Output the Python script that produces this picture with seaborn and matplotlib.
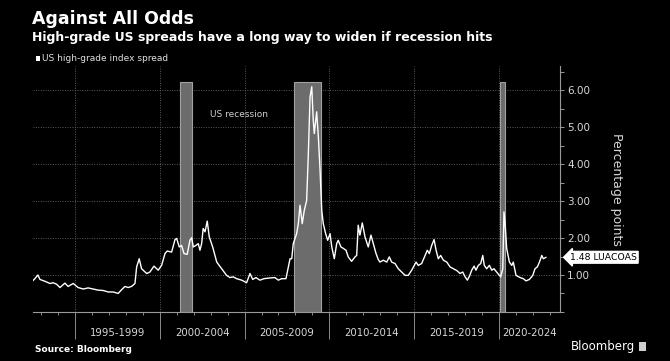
import numpy as np
import pandas as pd
import matplotlib.pyplot as plt
import seaborn as sns
from matplotlib.ticker import MultipleLocator, FixedLocator
from matplotlib.patches import Rectangle

# US high-grade index spread (LUACOAS), percentage points
years = [1992.51, 1992.64, 1992.82, 1992.94, 1993.23, 1993.53, 1993.72, 1993.92, 1994.12,
         1994.41, 1994.60, 1994.90, 1995.19, 1995.49, 1995.78, 1996.08, 1996.37, 1996.67,
         1996.96, 1997.26, 1997.55, 1997.75, 1997.95, 1998.14, 1998.34, 1998.54, 1998.64,
         1998.79, 1998.93, 1999.23, 1999.42, 1999.66, 1999.91, 2000.11, 2000.31, 2000.44,
         2000.70, 2000.90, 2001.00, 2001.15, 2001.29, 2001.43, 2001.62, 2001.78, 2001.88,
         2001.98, 2002.13, 2002.27, 2002.37, 2002.47, 2002.56, 2002.67, 2002.80, 2002.92,
         2003.12, 2003.36, 2003.65, 2003.94, 2004.14, 2004.33, 2004.53, 2004.83, 2005.12,
         2005.32, 2005.48, 2005.67, 2005.91, 2006.14, 2006.50, 2006.79, 2006.99, 2007.19,
         2007.44, 2007.58, 2007.68, 2007.78, 2007.87, 2008.07, 2008.17, 2008.27, 2008.40,
         2008.52, 2008.66, 2008.76, 2008.86, 2008.96, 2009.05, 2009.11, 2009.25, 2009.35,
         2009.45, 2009.55, 2009.64, 2009.78, 2009.90, 2010.04, 2010.14, 2010.29, 2010.43,
         2010.52, 2010.68, 2010.82, 2010.98, 2011.11, 2011.31, 2011.51, 2011.61, 2011.70,
         2011.80, 2011.94, 2012.10, 2012.29, 2012.45, 2012.59, 2012.75, 2012.88, 2012.98,
         2013.18, 2013.38, 2013.53, 2013.67, 2013.87, 2014.06, 2014.26, 2014.46, 2014.65,
         2014.85, 2015.11, 2015.24, 2015.44, 2015.64, 2015.77, 2015.89, 2016.03, 2016.17,
         2016.29, 2016.42, 2016.56, 2016.72, 2016.92, 2017.11, 2017.31, 2017.51, 2017.70,
         2017.86, 2018.00, 2018.13, 2018.25, 2018.39, 2018.53, 2018.64, 2018.78, 2018.92,
         2019.04, 2019.13, 2019.27, 2019.43, 2019.57, 2019.70, 2019.86, 2020.02, 2020.10,
         2020.22, 2020.29, 2020.37, 2020.45, 2020.61, 2020.75, 2020.84, 2021.00, 2021.24,
         2021.43, 2021.59, 2021.79, 2021.99, 2022.12, 2022.26, 2022.38, 2022.52, 2022.61,
         2022.77]
spread = [0.84, 0.90, 1.00, 0.88, 0.83, 0.77, 0.79, 0.75, 0.66,
          0.78, 0.69, 0.77, 0.66, 0.62, 0.65, 0.62, 0.59, 0.58,
          0.54, 0.54, 0.50, 0.60, 0.69, 0.66, 0.69, 0.77, 1.22,
          1.44, 1.17, 1.04, 1.08, 1.24, 1.13, 1.26, 1.58, 1.65,
          1.62, 1.96, 1.99, 1.76, 1.80, 1.58, 1.56, 1.94, 2.01,
          1.76, 1.80, 1.85, 1.67, 1.85, 2.26, 2.17, 2.46, 2.03,
          1.76, 1.35, 1.17, 0.99, 0.93, 0.95, 0.90, 0.86, 0.79,
          1.04, 0.88, 0.93, 0.86, 0.90, 0.92, 0.93, 0.86, 0.90,
          0.90, 1.22, 1.44, 1.44, 1.85, 2.12, 2.39, 2.89, 2.39,
          2.75, 3.02, 4.29, 5.82, 6.10, 5.19, 4.83, 5.42, 4.74,
          3.84, 2.75, 2.39, 2.12, 1.94, 2.12, 1.76, 1.44, 1.85,
          1.94, 1.76, 1.72, 1.67, 1.49, 1.37, 1.49, 1.53, 2.35,
          2.08, 2.41, 2.03, 1.76, 2.08, 1.85, 1.58, 1.42, 1.35,
          1.40, 1.35, 1.49, 1.35, 1.31, 1.17, 1.08, 0.99, 0.99,
          1.13, 1.35, 1.26, 1.31, 1.53, 1.67, 1.58, 1.80, 1.96,
          1.67, 1.44, 1.53, 1.40, 1.35, 1.22, 1.17, 1.12, 1.04,
          1.08, 0.95, 0.86, 0.96, 1.13, 1.24, 1.13, 1.26, 1.31,
          1.53, 1.26, 1.17, 1.26, 1.13, 1.17, 1.08, 0.99, 0.95,
          1.17, 2.71, 2.30, 1.72, 1.35, 1.26, 1.35, 0.99, 0.93,
          0.90, 0.84, 0.88, 0.99, 1.17, 1.22, 1.35, 1.53, 1.44,
          1.48]

rec_start = [2001.2, 2007.92, 2020.08]
rec_end = [2001.9, 2009.5, 2020.33]
rec_top = 6.23

period_edges = [1995, 2000, 2005, 2010, 2015, 2020]
period_labels = ['1995-1999', '2000-2004', '2005-2009', '2010-2014', '2015-2019', '2020-2024']
period_centers = [1997.5, 2002.5, 2007.5, 2012.5, 2017.5, 2021.8]
last_value = 1.48

sns.set_theme(style='ticks', rc={
    'figure.facecolor': 'black',
    'axes.facecolor': 'black',
    'savefig.facecolor': 'black',
    'text.color': 'white',
})
plt.rcParams['font.family'] = ['DejaVu Sans']

fig = plt.figure(figsize=(6.7, 3.61), dpi=100)
ax = fig.add_axes([0.049, 0.136, 0.787, 0.681])

# recession bars
heights = [rec_top] * len(rec_start)
widths = [e - s for s, e in zip(rec_start, rec_end)]
ax.bar(rec_start, heights, width=widths, align='edge', color='#6c6c6c',
       edgecolor='#a2a2a2', linewidth=0.8, zorder=2)

df = pd.DataFrame({'year': years, 'spread': spread})
sns.lineplot(data=df, x='year', y='spread', ax=ax, color='white', linewidth=1.0, zorder=3)

ax.set_xlim(1992.52, 2023.6)
ax.set_ylim(0, 6.66)

# y axis on the right
ax.yaxis.tick_right()
ax.yaxis.set_label_position('right')
ax.yaxis.set_major_locator(FixedLocator([1, 2, 3, 4, 5, 6]))
ax.yaxis.set_minor_locator(MultipleLocator(0.5))
ax.set_yticklabels(['1.00', '2.00', '3.00', '4.00', '5.00', '6.00'])
ax.tick_params(axis='y', which='both', direction='out', colors='#9a9a9a', labelcolor='#d8d8d8',
               labelsize=7.5, length=3, width=0.7, pad=2)

# x axis: long separators at period edges, short ticks each year
ax.xaxis.set_major_locator(FixedLocator(period_edges))
ax.xaxis.set_minor_locator(MultipleLocator(1))
ax.set_xticklabels([])
ax.tick_params(axis='x', which='major', direction='out', length=19.5, width=0.7, colors='#8a8a8a')
ax.tick_params(axis='x', which='minor', direction='out', length=2.5, width=0.7, colors='#8a8a8a')
for c, lab in zip(period_centers, period_labels):
    ax.text(c, -0.085, lab, transform=ax.get_xaxis_transform(), ha='center', va='center',
            fontsize=7.3, color='#d8d8d8')

ax.grid(True, which='major', axis='both', color='#5a5a5a', linestyle=(0, (1, 1.5)), linewidth=0.7)
ax.set_axisbelow(True)

for side in ['left', 'top']:
    ax.spines[side].set_visible(False)
ax.spines['bottom'].set_color('#9a9a9a')
ax.spines['right'].set_color('#9a9a9a')
ax.spines['bottom'].set_linewidth(0.8)
ax.spines['right'].set_linewidth(0.8)

ax.set_xlabel('')
ax.set_ylabel('Percentage points', rotation=270, fontsize=9, color='#d8d8d8', labelpad=24)

ax.text(2002.95, 5.35, 'US recession', fontsize=6.5, color='#cfcfcf', ha='left', va='center')

# last value tag
ax.annotate(f'{last_value:.2f} LUACOAS', xy=(1.0, last_value), xycoords=('axes fraction', 'data'),
            xytext=(7, 0), textcoords='offset points', ha='left', va='center',
            fontsize=6.7, color='black',
            bbox=dict(boxstyle='larrow,pad=0.15', fc='white', ec='white'))

# titles and footer
fig.text(0.048, 0.948, 'Against All Odds', fontsize=12.5, fontweight='bold', color='white',
         ha='left', va='center')
fig.text(0.048, 0.897, 'High-grade US spreads have a long way to widen if recession hits',
         fontsize=9, fontweight='bold', color='white', ha='left', va='center')
fig.patches.append(Rectangle((0.0537, 0.832), 0.0066, 0.0139, transform=fig.transFigure,
                             facecolor='white', edgecolor='none'))
fig.text(0.0625, 0.839, 'US high-grade index spread', fontsize=6.5, color='#e0e0e0',
         ha='left', va='center')
fig.text(0.052, 0.031, 'Source: Bloomberg', fontsize=6.5, fontweight='bold', color='white',
         ha='left', va='center')
fig.text(0.948, 0.04, 'Bloomberg', fontsize=8.5, color='white', ha='right', va='center')
fig.patches.append(Rectangle((0.953, 0.028), 0.011, 0.026, transform=fig.transFigure,
                             facecolor='#cfcfcf', edgecolor='none'))

fig.savefig('out.png', dpi=100, facecolor='black')
